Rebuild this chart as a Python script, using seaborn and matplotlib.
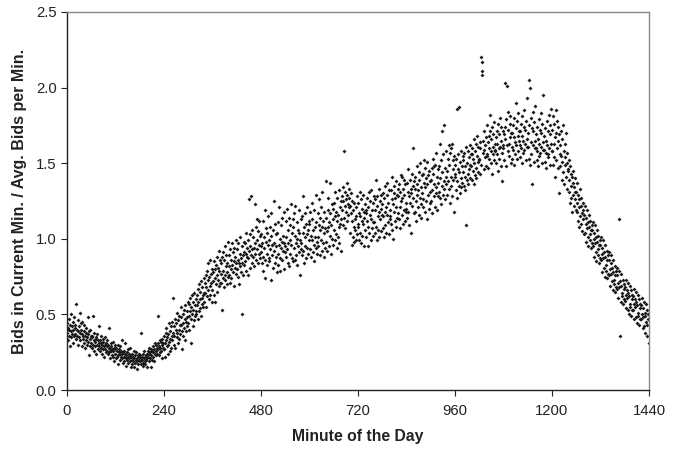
import numpy as np
import pandas as pd
import matplotlib
matplotlib.use("Agg")
import matplotlib.pyplot as plt
import seaborn as sns

# bids ratio, in hundredths, one value per minute
night = [  # 0-239
    38,44,33,41,47,36,40,29,43,39,50,35,42,37,45,31,40,48,36,41,
    37,43,34,57,40,36,46,30,39,42,35,51,38,33,44,40,29,37,45,36,
    34,39,31,43,36,28,38,33,41,35,30,48,37,32,23,39,34,40,29,36,
    31,36,28,35,49,30,33,26,38,32,29,35,24,34,30,37,27,33,42,31,
    29,33,26,31,36,28,30,24,34,27,32,29,22,30,35,27,31,25,29,33,
    26,30,24,28,41,25,27,21,31,26,29,23,27,32,22,26,28,19,27,30,
    24,28,21,26,22,30,23,17,25,27,20,24,29,22,26,33,21,24,18,25,
    22,26,19,24,31,21,23,16,25,20,27,22,18,24,21,28,19,23,15,22,
    20,24,17,22,19,26,21,15,23,18,20,25,14,21,19,23,17,22,20,24,
    19,23,17,21,38,20,22,16,24,18,21,26,19,22,17,23,20,15,24,21,
    22,26,19,24,28,21,25,15,27,23,20,26,29,22,25,19,27,24,31,23,
    26,30,24,28,49,27,31,23,29,33,25,28,32,26,30,21,34,28,31,27,
]
early_morning = [  # 240-479
    27,36,31,22,38,33,41,29,35,24,37,30,44,32,26,39,34,28,42,36,
    33,45,38,61,30,42,36,47,28,40,44,35,51,38,31,46,40,34,49,43,
    37,48,43,55,39,27,50,44,36,53,41,47,33,56,45,39,52,48,42,58,
    44,57,49,40,61,52,31,55,47,63,50,42,58,53,46,64,56,49,60,52,
    50,63,56,47,67,58,52,70,60,54,65,49,72,61,57,68,63,55,74,64,
    58,71,64,76,55,68,79,62,73,66,84,60,75,69,86,63,77,71,58,80,
    66,78,72,85,63,80,74,58,83,70,88,76,65,81,73,92,69,79,86,71,
    71,84,77,53,88,74,91,79,68,86,76,95,73,82,89,70,84,78,98,75,
    76,89,82,71,93,80,86,74,97,83,78,91,69,85,94,81,88,77,99,84,
    80,93,86,75,97,84,70,90,82,101,87,78,95,84,50,89,76,98,91,83,
    85,97,90,79,104,88,94,76,99,87,126,92,81,103,95,128,89,84,106,93,
    88,101,94,82,123,97,90,108,86,99,113,93,84,105,96,90,112,87,102,95,
]
late_morning = [  # 480-719
    91,103,84,97,112,88,79,101,94,119,86,74,98,107,90,83,104,96,115,87,
    99,85,108,93,73,102,117,89,96,81,106,92,125,97,84,110,95,88,103,78,
    104,90,83,111,96,121,87,100,79,94,109,98,86,114,92,102,80,97,118,91,
    95,112,88,101,120,93,84,106,97,114,82,99,109,90,123,96,87,104,113,85,
    108,94,117,86,102,122,97,89,111,100,83,106,95,119,91,104,76,99,113,93,
    97,115,89,104,128,92,108,84,101,117,95,110,87,103,121,94,106,90,112,99,
    110,93,118,102,88,113,99,124,91,106,96,119,85,108,101,129,94,111,98,90,
    101,117,95,109,126,89,106,114,99,121,92,108,131,97,112,88,104,118,94,107,
    114,98,138,105,92,119,108,127,95,111,137,102,117,90,109,123,100,113,96,120,
    106,124,99,115,131,103,118,94,112,127,101,116,108,132,97,121,110,92,125,113,
    119,128,109,125,134,158,114,122,131,107,126,118,137,112,129,123,116,133,121,127,
    122,104,117,130,96,112,125,101,119,108,98,124,113,106,121,99,115,128,103,110,
]
afternoon = [  # 720-959
    108,124,99,117,131,104,115,126,97,112,120,102,129,110,118,95,114,123,106,119,
    117,101,127,112,95,121,108,131,104,116,125,99,113,132,107,119,102,124,111,128,
    111,126,104,119,139,108,122,99,128,115,106,133,118,101,125,113,129,105,120,116,
    123,107,130,115,101,127,118,135,109,121,104,129,116,137,111,124,103,132,119,113,
    115,132,110,126,141,106,123,100,130,118,135,112,127,108,138,121,114,129,117,133,
    128,113,136,121,107,131,125,142,116,127,141,110,133,139,119,129,112,136,124,118,
    120,137,114,131,146,118,128,109,139,124,133,104,130,143,122,135,160,127,117,138,
    133,118,141,125,112,136,129,148,121,132,144,116,139,127,150,123,134,114,142,130,
    126,143,121,137,152,118,134,147,125,140,113,136,151,129,142,120,145,131,138,124,
    139,125,147,132,117,143,153,148,128,136,121,149,134,157,130,141,119,146,137,128,
    131,148,127,163,140,123,152,135,144,171,129,156,138,175,133,147,126,158,141,136,
    145,129,153,138,162,133,149,124,157,141,135,160,128,163,146,139,152,118,155,143,
]
evening = [  # 960-1199
    141,149,132,153,138,186,127,146,156,135,144,187,130,151,140,158,134,148,137,155,
    144,152,135,157,141,148,132,109,161,139,150,143,158,136,154,146,162,140,149,156,
    148,156,139,160,145,153,136,166,150,142,158,147,163,140,155,168,151,144,161,153,
    152,160,143,164,149,220,217,211,208,157,165,146,159,171,154,162,148,167,156,175,
    155,164,147,168,153,160,182,171,158,150,166,143,174,161,156,169,152,177,163,159,
    158,167,150,171,156,163,145,176,160,153,169,161,180,148,165,174,157,138,171,162,
    160,169,152,174,203,166,148,179,162,201,172,158,184,163,155,176,167,181,150,170,
    161,170,153,175,159,167,149,180,164,156,173,190,162,178,153,168,183,158,171,165,
    162,171,154,176,160,168,150,181,165,157,174,159,185,163,172,152,178,166,193,161,
    161,170,153,175,205,200,149,180,164,156,173,136,184,162,171,151,177,165,188,160,
    160,169,152,174,158,166,148,179,163,155,172,157,183,161,170,150,176,164,195,159,
    159,168,151,173,157,165,147,178,162,154,171,156,182,160,169,149,175,163,186,158,
]
late_night = [  # 1200-1439
    158,172,149,181,163,154,176,141,167,185,152,170,160,178,147,165,174,130,169,156,
    162,148,171,155,139,166,151,175,144,158,136,163,149,154,170,141,157,133,150,145,
    146,131,152,139,124,148,135,143,127,141,118,137,145,129,134,122,140,126,131,119,
    131,118,137,124,112,129,121,108,126,133,115,122,110,127,117,105,124,113,119,103,
    116,104,122,110,98,114,107,119,101,111,95,108,116,103,99,112,94,106,109,97,
    106,95,111,100,88,104,97,109,91,101,85,98,106,93,89,102,84,96,99,87,
    96,86,101,90,78,94,87,99,81,91,75,88,96,83,79,92,74,86,89,77,
    86,76,91,80,69,84,77,89,72,81,66,78,86,73,70,82,65,76,79,68,
    76,67,81,71,61,113,68,79,36,72,58,69,77,64,62,73,57,67,70,60,
    68,59,73,63,54,66,61,71,53,64,50,62,69,57,55,66,49,60,63,53,
    62,53,67,57,47,60,55,65,48,58,44,56,63,51,49,60,43,54,57,47,
    56,47,61,50,41,54,48,58,42,51,38,49,57,45,43,53,36,47,50,31,
]

ratio = np.array(night + early_morning + late_morning + afternoon + evening + late_night) / 100
df = pd.DataFrame({"minute": np.arange(len(ratio)), "ratio": ratio})

sns.set_style("ticks")
plt.rcParams["font.family"] = ["Liberation Sans", "DejaVu Sans"]

fig = plt.figure(figsize=(6.85, 4.49), dpi=100)
ax = fig.add_axes([0.0978, 0.1314, 0.8496, 0.8419])

sns.scatterplot(data=df, x="minute", y="ratio", ax=ax, marker="D", s=4,
                color="#1a1a1a", linewidth=0)

ax.set_xlim(0, 1440)
ax.set_ylim(0, 2.5)
ax.set_xticks(range(0, 1441, 240))
ax.set_yticks([0, 0.5, 1.0, 1.5, 2.0, 2.5])
ax.set_yticklabels(["0.0", "0.5", "1.0", "1.5", "2.0", "2.5"])
ax.tick_params(labelsize=10.7, length=4, width=0.8, direction="out",
               colors="#222222")
ax.tick_params(axis="x", pad=6)
ax.set_xlabel("Minute of the Day", fontsize=11.3, fontweight="bold",
              color="#222222", labelpad=8)
ax.set_ylabel("Bids in Current Min. / Avg. Bids per Min.", fontsize=11.5,
              fontweight="bold", color="#222222", labelpad=6)

for side in ["left", "bottom"]:
    ax.spines[side].set_color("#222222")
    ax.spines[side].set_linewidth(1)
for side in ["top", "right"]:
    ax.spines[side].set_visible(True)
    ax.spines[side].set_color("#888888")
    ax.spines[side].set_linewidth(1)

fig.savefig("out.png", dpi=100)
